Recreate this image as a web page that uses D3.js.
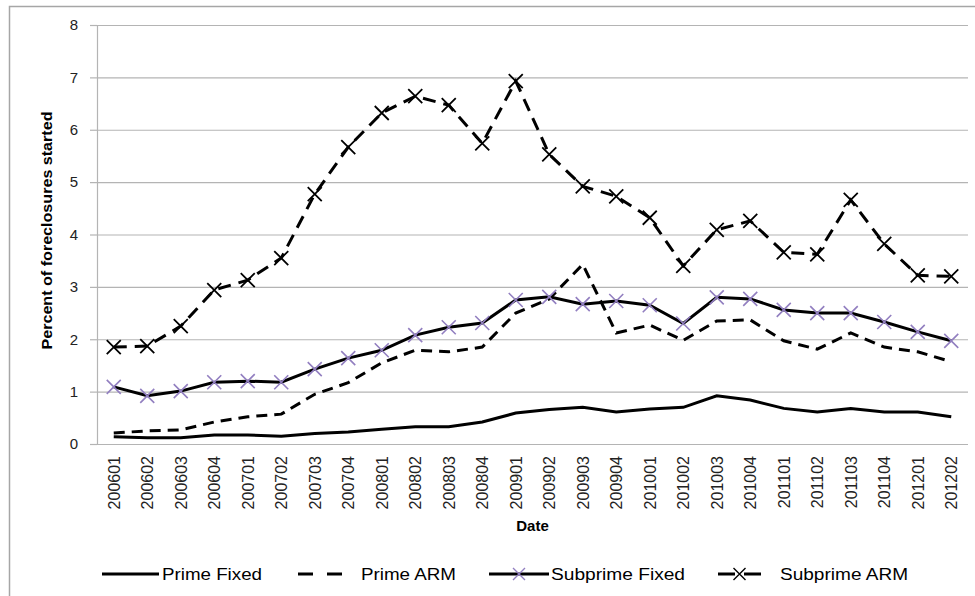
<!DOCTYPE html>
<html>
<head>
<meta charset="utf-8">
<script src="https://cdn.jsdelivr.net/npm/d3@7"></script>
<style>
  body { margin: 0; background: #fff; }
  svg { display: block; font-family: "Liberation Sans", Arial, sans-serif; }
  .grid line { stroke: #b4b4b4; stroke-width: 1.2; }
  .grid .domain { display: none; }
  .yaxis .domain, .yaxis line { stroke: #b4b4b4; stroke-width: 1.2; }
  .yaxis text { font-size: 15px; fill: #222; }
  .xaxis .domain, .xaxis line { display: none; }
  .xaxis text { font-size: 16px; fill: #222; }
  .line { fill: none; stroke: #000; stroke-width: 3; }
</style>
</head>
<body>
<script>
// Set graph dimensions and margins
var margin = {top: 25, right: 7, bottom: 152, left: 97},
    width = 975 - margin.left - margin.right,
    height = 596 - margin.top - margin.bottom;

// Quarters on the x axis
var dates = ["200601", "200602", "200603", "200604", "200701", "200702", "200703", "200704",
             "200801", "200802", "200803", "200804", "200901", "200902", "200903", "200904",
             "201001", "201002", "201003", "201004", "201101", "201102", "201103", "201104",
             "201201", "201202"];

// Percent of foreclosures started, one array per series
var primeFixed = [0.14, 0.12, 0.12, 0.17, 0.17, 0.15, 0.20, 0.23, 0.28, 0.33, 0.33, 0.42,
                  0.59, 0.66, 0.70, 0.61, 0.67, 0.70, 0.92, 0.84, 0.68, 0.61, 0.68, 0.61,
                  0.61, 0.52];
var primeARM = [0.21, 0.25, 0.27, 0.42, 0.52, 0.57, 0.95, 1.17, 1.55, 1.79, 1.76, 1.85,
                2.50, 2.77, 3.43, 2.12, 2.27, 1.98, 2.35, 2.37, 1.97, 1.81, 2.12, 1.85,
                1.76, 1.57];
var subprimeFixed = [1.09, 0.92, 1.01, 1.18, 1.20, 1.18, 1.43, 1.64, 1.79, 2.08, 2.23, 2.31,
                     2.75, 2.81, 2.67, 2.73, 2.65, 2.30, 2.80, 2.77, 2.56, 2.50, 2.50, 2.33,
                     2.14, 1.97];
var subprimeARM = [1.85, 1.87, 2.25, 2.94, 3.13, 3.55, 4.77, 5.67, 6.32, 6.64, 6.47, 5.74,
                   6.93, 5.53, 4.92, 4.73, 4.32, 3.40, 4.09, 4.26, 3.66, 3.62, 4.66, 3.82,
                   3.22, 3.20];

var yTicks = [0, 1, 2, 3, 4, 5, 6, 7, 8];

// Series styling
var series = [
  {name: "Prime Fixed", values: primeFixed, dash: null, marker: null},
  {name: "Prime ARM", values: primeARM, dash: "11,7", marker: null},
  {name: "Subprime Fixed", values: subprimeFixed, dash: null, marker: "#927fc0"},
  {name: "Subprime ARM", values: subprimeARM, dash: "13,8", marker: "#000"}
];

// Set ranges
var x = d3.scalePoint()
    .domain(dates)
    .range([0, width])
    .padding(0.5);
var y = d3.scaleLinear()
    .domain([0, 8])
    .range([height, 0]);

// Define line
var line = d3.line()
    .x(function(d, i) { return x(dates[i]); })
    .y(function(d) { return y(d); });

var root = d3.select("body").append("svg")
    .attr("width", 975)
    .attr("height", 596);

// Chart frame (only top and left edges are visible)
root.append("rect")
    .attr("x", 9.5).attr("y", 6.5)
    .attr("width", 1000).attr("height", 1000)
    .attr("fill", "none")
    .attr("stroke", "#a6a6a6")
    .attr("stroke-width", 1.5);

var svg = root.append("g")
    .attr("transform", "translate(" + margin.left + "," + margin.top + ")");

// Gridlines
svg.append("g")
    .attr("class", "grid")
    .call(d3.axisLeft(y).tickValues(yTicks).tickSize(-width).tickFormat(""));

// Y axis
svg.append("g")
    .attr("class", "yaxis")
    .call(d3.axisLeft(y).tickValues(yTicks).tickSize(7).tickPadding(12).tickFormat(d3.format("d")));

// X axis labels, rotated
svg.append("g")
    .attr("class", "xaxis")
    .attr("transform", "translate(0," + height + ")")
    .call(d3.axisBottom(x).tickSize(0))
  .selectAll("text")
    .attr("transform", "rotate(-90)")
    .attr("x", -12)
    .attr("y", 0)
    .attr("dy", "0.35em")
    .attr("text-anchor", "end");

// X marker path
function cross(s) {
  return "M" + (-s) + "," + (-s) + "L" + s + "," + s + "M" + (-s) + "," + s + "L" + s + "," + (-s);
}

// Lines and markers
series.forEach(function(s) {
  svg.append("path")
    .datum(s.values)
    .attr("class", "line")
    .attr("stroke-dasharray", s.dash)
    .attr("d", line);

  if (s.marker) {
    svg.selectAll(null)
      .data(s.values)
      .enter().append("path")
      .attr("transform", function(d, i) {
        return "translate(" + x(dates[i]) + "," + y(d) + ")";
      })
      .attr("d", cross(7))
      .attr("fill", "none")
      .attr("stroke", s.marker)
      .attr("stroke-width", s.marker === "#000" ? 1.8 : 1.6);
  }
});

// Axis titles
svg.append("text")
    .attr("x", width / 2)
    .attr("y", height + 87)
    .attr("text-anchor", "middle")
    .style("font-size", "15px")
    .style("font-weight", "bold")
    .text("Date");

svg.append("text")
    .attr("transform", "rotate(-90)")
    .attr("x", -height / 2 + 4)
    .attr("y", -45)
    .attr("text-anchor", "middle")
    .attr("textLength", 238)
    .attr("lengthAdjust", "spacingAndGlyphs")
    .style("font-size", "15px")
    .style("font-weight", "bold")
    .text("Percent of foreclosures started");

// Legend
var legendY = 574;
var legendItems = [
  {s: series[0], x0: 102, x1: 159, tx: 162, len: 100, dash: null},
  {s: series[1], x0: 298, x1: 342, tx: 361, len: 95, dash: "15,14"},
  {s: series[2], x0: 489, x1: 549, tx: 551, len: 134, dash: null},
  {s: series[3], x0: 718, x1: 761, tx: 780, len: 128, dash: "17,9"}
];

var legend = root.append("g");
legendItems.forEach(function(d) {
  legend.append("line")
    .attr("x1", d.x0).attr("x2", d.x1)
    .attr("y1", legendY).attr("y2", legendY)
    .attr("stroke", "#000")
    .attr("stroke-width", 3)
    .attr("stroke-dasharray", d.dash);
  if (d.s.marker) {
    legend.append("path")
      .attr("transform", "translate(" + ((d.x0 + d.x1) / 2) + "," + legendY + ")")
      .attr("d", cross(6))
      .attr("fill", "none")
      .attr("stroke", d.s.marker)
      .attr("stroke-width", 1.4);
  }
  legend.append("text")
    .attr("x", d.tx)
    .attr("y", legendY)
    .attr("dy", "0.35em")
    .attr("textLength", d.len)
    .attr("lengthAdjust", "spacingAndGlyphs")
    .style("font-size", "16px")
    .text(d.s.name);
});
</script>
</body>
</html>
